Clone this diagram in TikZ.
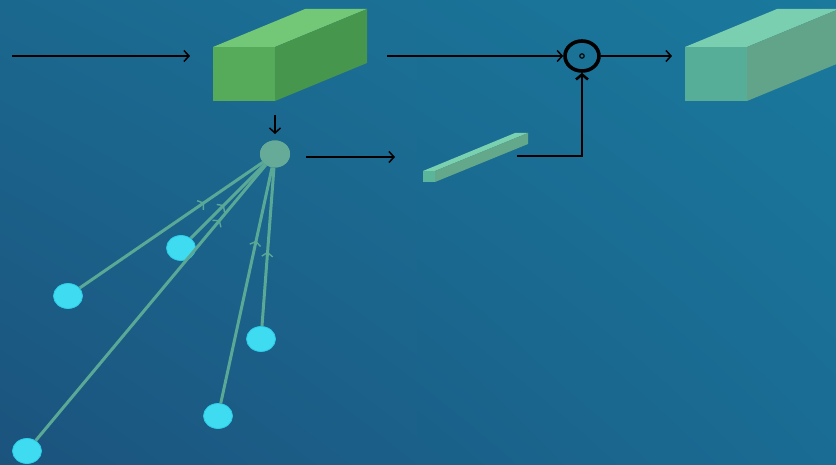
\documentclass[tikz,border=0pt]{standalone}
\usetikzlibrary{arrows.meta,decorations.markings,shapes.geometric,shadings}
\definecolor{bgUL}{RGB}{27,104,143}
\definecolor{bgUR}{RGB}{26,121,157}
\definecolor{bgLL}{RGB}{27,83,125}
\definecolor{bgLR}{RGB}{26,108,148}
\definecolor{gfront}{HTML}{56AB5A}
\definecolor{gtop}{HTML}{72C877}
\definecolor{gside}{HTML}{47964D}
\definecolor{tfront}{HTML}{57AE98}
\definecolor{ttop}{HTML}{79CFAF}
\definecolor{tside}{HTML}{62A48A}
\definecolor{bfront}{HTML}{5BB59B}
\definecolor{btop}{HTML}{79D1B0}
\definecolor{bside}{HTML}{63A88A}
\definecolor{rootc}{HTML}{66AB98}
\definecolor{leafc}{HTML}{3FDBF0}
\definecolor{leafb}{HTML}{2CCBE8}
\definecolor{edgec}{HTML}{5AA896}
\begin{document}
\begin{tikzpicture}[x=1pt,y=-1pt,
  flow/.style={black,line width=1.5pt,-{Straight Barb[length=5pt,width=11pt]}},
  leafnode/.style={ellipse,fill=leafc,draw=leafb,line width=0.8pt,minimum width=29pt,minimum height=25pt,inner sep=0pt},
  rootnode/.style={ellipse,fill=rootc,minimum width=30pt,minimum height=27pt,inner sep=0pt},
  treeedge/.style={edgec,line width=3pt},
  midarr/.style={postaction={decorate},decoration={markings,mark=at position #1 with {\arrow[line width=1.4pt]{Straight Barb[length=4pt,width=11pt]}}}}
]
\useasboundingbox (0,0) rectangle (836,465);
\shade[upper left=bgUL,upper right=bgUR,lower left=bgLL,lower right=bgLR] (0,0) rectangle (836,465);

% green box
\fill[gfront] (213,47) rectangle (275,101);
\fill[gtop] (213,47) -- (305,9) -- (367,9) -- (275,47) -- cycle;
\fill[gside] (275,47) -- (367,9) -- (367,63) -- (275,101) -- cycle;

% teal box (right, cut off)
\fill[tfront] (685,47) rectangle (747,101);
\fill[ttop] (685,47) -- (777,9) -- (839,9) -- (747,47) -- cycle;
\fill[tside] (747,47) -- (839,9) -- (839,63) -- (747,101) -- cycle;

% thin bar
\fill[bfront] (423,171) rectangle (435,182);
\fill[btop] (423,171) -- (515,133) -- (528,133) -- (435,171) -- cycle;
\fill[bside] (435,171) -- (528,133) -- (528,144) -- (435,182) -- cycle;

% coordinates
\coordinate (in) at (12,56);
\coordinate (boxin) at (190,56);
\coordinate (boxout) at (387,56);
\coordinate (outend) at (672,56);
\coordinate (downs) at (275,115);
\coordinate (downe) at (275,134);
\coordinate (rs) at (306,157);
\coordinate (re) at (395,157);
\coordinate (barend) at (517,156);

\node[ellipse,draw=black,line width=3.6pt,minimum width=34pt,minimum height=30pt,inner sep=0pt] (mul) at (582,56) {};
\node[circle,draw=black,line width=1.1pt,minimum size=4.5pt,inner sep=0pt] (dot) at (582,56) {};

\draw[flow] (in) -- (boxin);
\draw[flow] (boxout) -- (mul.west);
\draw[flow] (mul.east) -- (outend);
\draw[flow] (downs) -- (downe);
\draw[flow] (rs) -- (re);
\draw[black,line width=2.6pt,-{Straight Barb[length=5pt,width=12pt]}] (barend) -| (mul.south);

% tree
\node[rootnode] (root) at (275,154) {};
\node[leafnode] (l1) at (68,296) {};
\node[leafnode] (l2) at (181,248) {};
\node[leafnode] (l3) at (27,451) {};
\node[leafnode] (l4) at (218,416) {};
\node[leafnode] (l5) at (261,339) {};

\draw[treeedge,midarr=0.68] (l1) -- (root);
\draw[treeedge,midarr=0.45] (l2) -- (root);
\draw[treeedge,midarr=0.8] (l3) -- (root);
\draw[treeedge,midarr=0.69] (l4) -- (root);
\draw[treeedge,midarr=0.47] (l5) -- (root);
\node[rootnode] at (root) {};
\end{tikzpicture}
\end{document}
